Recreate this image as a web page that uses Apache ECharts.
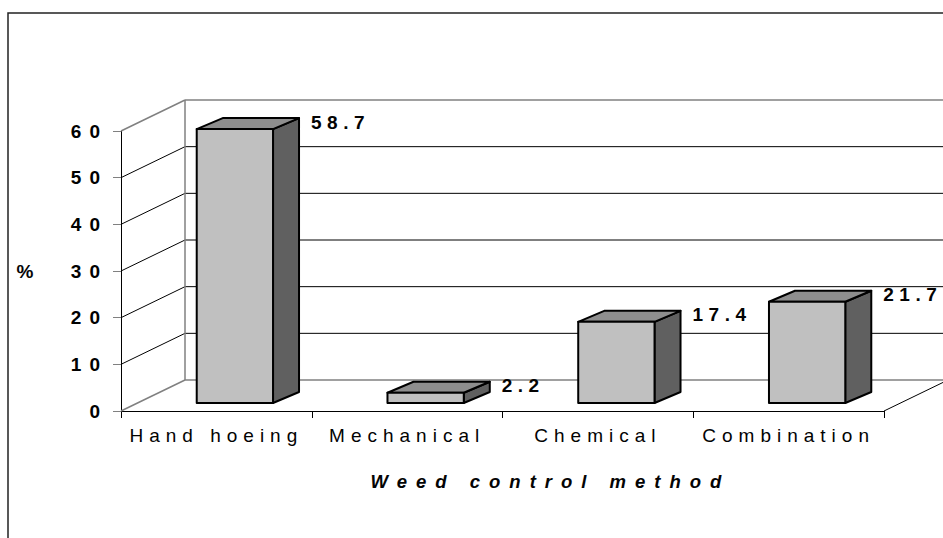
<!DOCTYPE html>
<html>
<head>
<meta charset="utf-8">
<script src="https://cdn.jsdelivr.net/npm/echarts@6/dist/echarts.min.js"></script>
<style>
  html, body { margin: 0; padding: 0; background: #fff; }
  #chart { width: 943px; height: 538px; }
  #chart text { letter-spacing: 7px; }
  #chart text[fill="#010101"], #chart text[fill="rgb(1,1,1)"] { letter-spacing: 8px; }
  #chart text[fill="#020202"], #chart text[fill="rgb(2,2,2)"] { letter-spacing: 6px; }
  #chart text[fill="#030303"], #chart text[fill="rgb(3,3,3)"] { letter-spacing: 5.5px; }
  #chart text[fill="#040404"], #chart text[fill="rgb(4,4,4)"] { letter-spacing: 9px; }
  #chart text[fill="#050505"], #chart text[fill="rgb(5,5,5)"] { letter-spacing: 0px; }
</style>
</head>
<body>
<div id="chart"></div>
<script>
// ---- data ----
const categories = ['Hand hoeing', 'Mechanical', 'Chemical', 'Combination'];
const values = [58.7, 2.2, 17.4, 21.7];
const yTicks = [0, 10, 20, 30, 40, 50, 60];
const xTitle = 'Weed control method';
const yTitle = '%';

// ---- style / geometry constants ----
const FONT = '"Liberation Sans", Arial, sans-serif';
const DEPTH = [64, -31];        // full depth of the 3D box
const BAR_FRONT = [18.5, -8];   // offset of bar front face from axis plane
const BAR_DEPTH = [26, -11];    // depth of each bar
const BAR_RATIO = 0.4;          // bar width as share of category width

const chart = echarts.init(document.getElementById('chart'), null, { renderer: 'svg' });

function renderFrame(params, api) {
  const cw = api.size([1, 0])[0];
  const x0 = api.coord([0, 0])[0] - cw / 2;
  const x1 = api.coord([categories.length - 1, 0])[0] + cw / 2;
  const yMin = api.coord([0, yTicks[0]])[1];
  const yMax = api.coord([0, yTicks[yTicks.length - 1]])[1];
  const dx = DEPTH[0], dy = DEPTH[1];
  const gray = { stroke: '#808080', lineWidth: 1.5 };
  const black = { stroke: '#000', lineWidth: 1 };
  const children = [];
  const line = (a, b, c, d, st) => children.push({ type: 'line', shape: { x1: a, y1: b, x2: c, y2: d }, style: st });
  yTicks.forEach((t, k) => {
    if (k === 0 || k === yTicks.length - 1) return;
    const y = api.coord([0, t])[1];
    line(x0, y, x0 + dx, y + dy, black);
    line(x0 + dx, y + dy, x1 + dx, y + dy, black);
  });
  // wall and floor borders
  line(x0, yMax, x0 + dx, yMax + dy, gray);
  line(x0 + dx, yMax + dy, x1 + dx, yMax + dy, gray);
  line(x0 + dx, yMax + dy, x0 + dx, yMin + dy, gray);
  line(x0 + dx, yMin + dy, x1 + dx, yMin + dy, gray);
  line(x0, yMin, x0 + dx, yMin + dy, gray);
  line(x1, yMin, x1 + dx, yMin + dy, black);
  return { type: 'group', children };
}

function renderBar(params, api) {
  const i = api.value(0), v = api.value(1);
  const cw = api.size([1, 0])[0];
  const base = api.coord([i, 0]);
  const top = api.coord([i, v]);
  const w = cw * BAR_RATIO;
  const fx = base[0] + BAR_FRONT[0] - w / 2;
  const fy0 = base[1] + BAR_FRONT[1];
  const fy1 = top[1] + BAR_FRONT[1];
  const dx = BAR_DEPTH[0], dy = BAR_DEPTH[1];
  const st = (fill) => ({ fill, stroke: '#000', lineWidth: 2, lineJoin: 'round' });
  return {
    type: 'group',
    children: [
      { type: 'polygon', shape: { points: [[fx + w, fy1], [fx + w + dx, fy1 + dy], [fx + w + dx, fy0 + dy], [fx + w, fy0]] }, style: st('#606060') },
      { type: 'polygon', shape: { points: [[fx, fy1], [fx + dx, fy1 + dy], [fx + w + dx, fy1 + dy], [fx + w, fy1]] }, style: st('#8e8e8e') },
      { type: 'polygon', shape: { points: [[fx, fy1], [fx + w, fy1], [fx + w, fy0], [fx, fy0]] }, style: st('#c0c0c0') },
      { type: 'text', x: fx + w + dx + 12, y: fy1 + dy + 4,
        style: { text: v.toFixed(1), fill: '#030303', font: 'bold 19px ' + FONT, align: 'left', verticalAlign: 'middle' } }
    ]
  };
}

chart.setOption({
  animation: false,
  backgroundColor: '#fff',
  grid: { left: 121, right: 59, top: 131, bottom: 127, containLabel: false },
  graphic: [{
    type: 'rect', shape: { x: 8, y: 13, width: 1200, height: 1200 },
    style: { fill: 'none', stroke: '#222', lineWidth: 1.5 }, z: -10, silent: true
  }],
  xAxis: {
    type: 'category',
    data: categories,
    boundaryGap: true,
    axisLine: { show: true, lineStyle: { color: '#000', width: 1 } },
    axisTick: { show: true, length: 7, lineStyle: { color: '#000' } },
    axisLabel: { color: '#020202', fontFamily: FONT, fontSize: 19, margin: 15, interval: 0 },
    splitLine: { show: false },
    name: xTitle,
    nameLocation: 'middle',
    nameGap: 70,
    nameTextStyle: { color: '#040404', fontFamily: FONT, fontSize: 18.5, fontWeight: 'bold', fontStyle: 'italic',
      verticalAlign: 'middle', padding: [0, 0, 0, 96] }
  },
  yAxis: {
    type: 'value',
    min: 0, max: 60, interval: 10,
    axisLine: { show: true, lineStyle: { color: '#000', width: 1 } },
    axisTick: { show: true, length: 8, lineStyle: { color: '#808080' } },
    axisLabel: { color: '#010101', fontFamily: FONT, fontSize: 19, fontWeight: 'bold', margin: 13 },
    splitLine: { show: false },
    name: yTitle,
    nameLocation: 'middle',
    nameRotate: 0,
    nameGap: 96,
    nameTextStyle: { color: '#050505', fontFamily: FONT, fontSize: 19, fontWeight: 'bold', align: 'center', verticalAlign: 'middle' }
  },
  series: [
    { type: 'custom', renderItem: renderFrame, data: [[0, 0]], z: 1, silent: true, clip: false },
    { type: 'custom', renderItem: renderBar, data: values.map((v, i) => [i, v]), z: 2, clip: false,
      encode: { x: 0, y: 1 } }
  ]
});
</script>
</body>
</html>
